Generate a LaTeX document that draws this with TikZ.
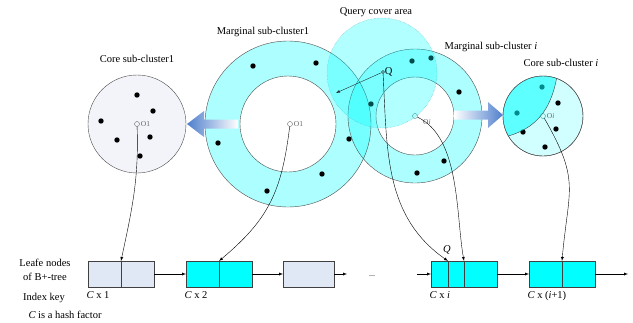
\documentclass[tikz,border=0pt]{standalone}
\usepackage{fontspec}
\setmainfont{Liberation Serif}
\usepackage{tikz}
\usetikzlibrary{calc}
\usetikzlibrary{arrows}
\usetikzlibrary{positioning}

\definecolor{aqua}{RGB}{0,255,255}
\definecolor{corefill}{HTML}{F3F3FA}
\definecolor{leafgray}{HTML}{E1E8F5}
\definecolor{bigarrow}{HTML}{4F7FCC}
\definecolor{qline}{HTML}{45B5C5}
\definecolor{deepteal}{HTML}{2A9A9A}

\tikzset{
  leaf/.style={draw=black!75, minimum height=26pt, minimum width=33pt, inner sep=0pt, outer sep=0pt},
  ctr/.style={circle, draw=black!60, inner sep=0pt, minimum size=5pt},
  olab/.style={text=black!60, font=\fontsize{7.5}{8}\selectfont, inner sep=1pt},
  keylab/.style={anchor=north west, xshift=-5pt, yshift=-1pt},
  ring/.style={fill=aqua, fill opacity=0.32, even odd rule},
}

\begin{document}
\begin{tikzpicture}[x=1pt,y=-1pt,font=\fontsize{10.5}{14}\selectfont]
\useasboundingbox (0,0) rectangle (633,322);

\coordinate (c_1) at (137,124);
\coordinate (m_1) at (288,124);
\coordinate (m_i) at (415,116);
\coordinate (c_i) at (543,116);
\coordinate (q_a) at (382,73);

% clusters
\draw [fill=corefill, draw=black!70] (c_1) circle (49pt);
\fill [ring] (m_1) circle (83pt) (m_1) circle (48pt);
\fill [ring] (m_i) circle (67pt) (m_i) circle (39pt);
\draw [black!70] (m_1) circle (83pt) (m_1) circle (48pt);
\draw [black!70] (m_i) circle (67pt) (m_i) circle (39pt);
\draw [fill=aqua!18, draw=black!70] (c_i) circle (40pt);

\foreach \p in {(137,95),(153,111),(101,121),(117,140),(150,137),(140,156),
                (253,66),(316,63),(218,143),(349,139),(322,174),(267,191),
                (412,61),(431,58),(459,92),(371,104),(444,161),(417,173),
                (542,87),(517,113),(558,103),(523,132),(556,129),(545,147)}
  \fill \p circle (2.7pt);

\begin{scope}
\clip (c_i) circle (40pt);
\fill [aqua, fill opacity=0.55] (558,70) .. controls (553,105) and (540,130) .. (500,138) -- (495,138) -- (495,70) -- cycle;
\draw [black!75] (558,70) .. controls (553,105) and (540,130) .. (500,138);
\end{scope}
\draw [black!70] (c_i) circle (40pt);

% query area
\draw [qline, densely dotted, fill=aqua, fill opacity=0.3] (q_a) circle (55pt);

% big arrows
\shade [left color=bigarrow, right color=white] (238,119.5) -- (204,119.5) -- (204,111) -- (187,124) -- (204,137) -- (204,128.5) -- (238,128.5) -- cycle;
\shade [left color=white, right color=bigarrow] (454,110.5) -- (488,110.5) -- (488,102) -- (503,115) -- (488,128) -- (488,119.5) -- (454,119.5) -- cycle;

% centres
\node [ctr] (o1c) at (c_1) {};
\node [olab, right=0pt of o1c] (o1clab) {O1};
\node [ctr] (o1m) at (290,124) {};
\node [olab, right=0pt of o1m] (o1mlab) {O1};
\node [ctr, draw=deepteal] (oim) at (m_i) {};
\node [olab, below right=0pt and 5pt of oim] (oimlab) {O\textit{i}};
\node [ctr, draw=deepteal] (oic) at (c_i) {};
\node [olab, right=0pt of oic] (oiclab) {O\textit{i}};
\node [circle, draw=black!80, inner sep=0pt, minimum size=3pt] (qc) at (383,72) {};
\node [right=-1pt of qc, inner sep=1pt] (qlab) {Q};
\coordinate (qend) at (336,93);
\draw [-latex, black!85] (qc) -- (qend);

% titles
\node (t_c1) at ($(c_1)+(0,-65)$) {Core sub-cluster1};
\node (t_m1) at (263,32) {Marginal sub-cluster1};
\node (t_q) at (376,12) {Query cover area};
\node (t_mi) at (491,47) {Marginal sub-cluster \textit{i}};
\node (t_ci) at (561,63) {Core sub-cluster \textit{i}};

% leaf nodes
\node [leaf, fill=leafgray] (b1a) at (104.5,274) {};
\node [leaf, fill=leafgray, right=0pt of b1a] (b1b) {};
\node [leaf, fill=aqua, right=32pt of b1b] (b2a) {};
\node [leaf, fill=aqua, right=0pt of b2a] (b2b) {};
\node [leaf, fill=leafgray, minimum width=51pt, right=31pt of b2b] (b3) {};
\node [leaf, fill=aqua, minimum width=17pt, right=97pt of b3] (b4a) {};
\node [leaf, fill=aqua, minimum width=16pt, right=0pt of b4a] (b4b) {};
\node [leaf, fill=aqua, right=0pt of b4b] (b4c) {};
\node [leaf, fill=aqua, right=32pt of b4c] (b5a) {};
\node [leaf, fill=aqua, right=0pt of b5a] (b5b) {};

\coordinate (gap_l) at (347,274);
\coordinate (gap_r) at (417,274);
\coordinate (tail) at (628,274);
\node (dots) at (372,276) {\fontsize{8}{8}\selectfont ...};

\draw [-latex] (b1b) -- (b2a);
\draw [-latex] (b2b) -- (b3);
\draw [-latex] (b3) -- (gap_l);
\draw [-latex] (gap_r) -- (b4a);
\draw [-latex] (b4c) -- (b5a);
\draw [-latex] (b5b) -- (tail);

% keys
\node [align=center] (leafe) at (45,270) {Leafe nodes\\of B+-tree};
\node (ikey) at (44,298) {Index key};
\node (hashf) at (65,315) {\textit{C} is a hash factor};
\node [keylab] (k1) at (b1a.south west) {\textit{C} x 1};
\node [keylab] (k2) at (b2a.south west) {\textit{C} x 2};
\node [keylab] (ki) at (b4a.south west) {\textit{C} x \textit{i}};
\node [keylab] (ki1) at (b5a.south west) {\textit{C} x (\textit{i}+1)};
\node (qkey) at (447,250) {\textit{Q}};

% pointers to the leaves
\draw [-latex] (o1c) to [out=-88,in=78] (b1a.north east);
\draw [-latex] (o1m) to [out=-97,in=40,looseness=1.1] (b2a.north east);
\draw [-latex] (qc) to [out=-87,in=145] (b4a.north east);
\draw [-latex] (oim) to [out=-25,in=100,looseness=0.8] (b4b.north east);
\draw [-latex] (oic) to [out=-60,in=85,looseness=1.3] (b5a.north east);

\end{tikzpicture}
\end{document}
